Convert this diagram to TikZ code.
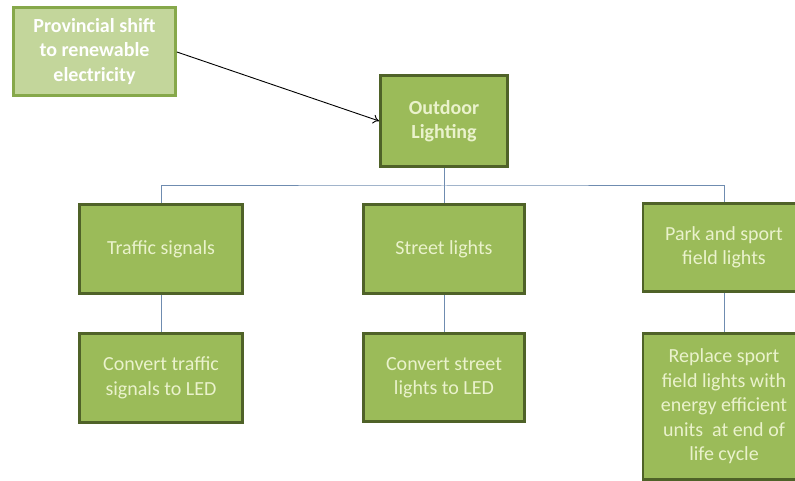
\documentclass[tikz,border=0pt]{standalone}
\usepackage{fontspec}
\setmainfont{Carlito}
\usetikzlibrary{arrows.meta}
\definecolor{boxfill}{HTML}{9BBB59}
\definecolor{boxedge}{HTML}{4F6228}
\definecolor{boxtext}{HTML}{EAF2CC}
\definecolor{lightfill}{HTML}{C3D69B}
\definecolor{lightedge}{HTML}{86A84A}
\definecolor{conncol}{HTML}{6F8CB0}
\tikzset{
  gbox/.style={draw=boxedge, line width=2.8pt, fill=boxfill, text=boxtext,
    align=center, inner sep=2pt, font=\fontsize{20}{24.5}\selectfont},
  lbox/.style={draw=lightedge, line width=2.8pt, fill=lightfill, text=white,
    align=center, inner sep=2pt, font=\fontsize{20}{24.5}\selectfont\bfseries},
  conn/.style={draw=conncol, line width=1pt},
  arr/.style={draw=black, line width=0.9pt, -{To[length=6pt,width=9pt]}}
}
\begin{document}
\begin{tikzpicture}[x=1pt,y=-1pt]
\fill[white] (0,0) rectangle (795,481);
\useasboundingbox (0,0) rectangle (795,481);
\clip (0,0) rectangle (795,481);
\node[lbox, minimum width=162pt, minimum height=88pt] (prov) at (94.5,51.5)
  {Provincial shift\\to renewable\\electricity};
\node[gbox, font=\fontsize{20}{24.5}\selectfont\bfseries, minimum width=127pt, minimum height=91pt] (outdoor) at (444,121)
  {Outdoor\\Lighting};
\node[gbox, minimum width=163pt, minimum height=89pt] (traffic) at (161,249)
  {Traffic signals};
\node[gbox, minimum width=161pt, minimum height=89pt] (street) at (444,249)
  {Street lights};
\node[gbox, minimum width=162pt, minimum height=88pt] (park) at (724,247.5)
  {Park and sport\\field lights};
\node[gbox, minimum width=163pt, minimum height=89pt] (ctraffic) at (161,378)
  {Convert traffic\\signals to LED};
\node[gbox, minimum width=161pt, minimum height=88pt] (cstreet) at (444,377.5)
  {Convert street\\lights to LED};
\node[gbox, minimum width=162pt, minimum height=146pt] (replace) at (724,406.5)
  {Replace sport\\field lights with\\energy efficient\\units\ \ at end of\\life cycle};
\coordinate (bus) at (444,186);
\draw[conn] (outdoor.south) -- (street.north);
\draw[conn] (traffic.north) |- (bus) -| (park.north);
\draw[conn] (traffic.south) -- (ctraffic.north);
\draw[conn] (street.south) -- (cstreet.north);
\draw[conn] (park.south) -- (replace.north);
\draw[arr] (prov.east) ++(0,0.5) -- (outdoor.west);
\end{tikzpicture}
\end{document}
